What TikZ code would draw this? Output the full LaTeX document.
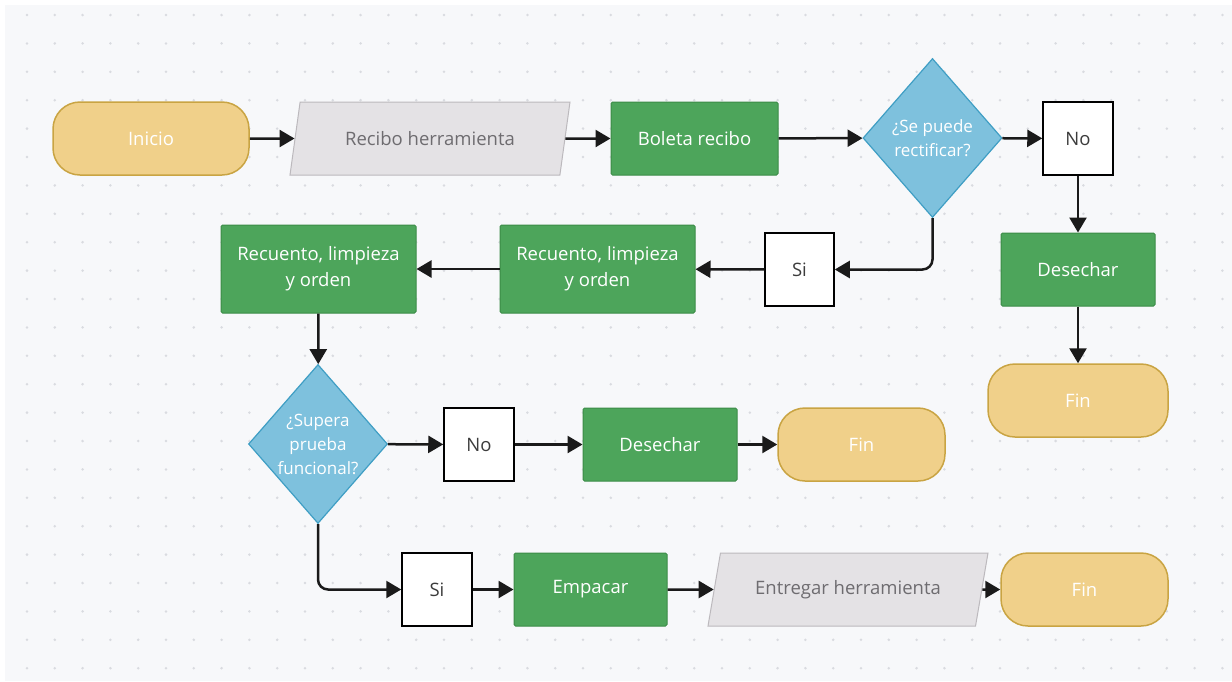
\documentclass[tikz,border=0pt]{standalone}
\usepackage{fontspec}
\setmainfont{Open Sans}
\usetikzlibrary{shapes.geometric,arrows.meta,calc}

\definecolor{canvas}{HTML}{F7F8FA}
\definecolor{griddot}{HTML}{D9DBE0}
\definecolor{termfill}{HTML}{F0D08A}
\definecolor{termline}{HTML}{C9A443}
\definecolor{procfill}{HTML}{4DA55B}
\definecolor{procline}{HTML}{3B8C47}
\definecolor{decfill}{HTML}{7EC1DD}
\definecolor{decline}{HTML}{3F9EC4}
\definecolor{iofill}{HTML}{E4E2E5}
\definecolor{ioline}{HTML}{BCB9BD}
\definecolor{iotext}{HTML}{6E6C70}
\definecolor{boxtext}{HTML}{3C3C3C}
\definecolor{arrowcol}{HTML}{1A1A1A}

\tikzset{
  base/.style={font=\fontsize{18.5}{26}\selectfont, align=center, inner sep=2pt},
  term/.style={base, rectangle, rounded corners=27pt, draw=termline, fill=termfill,
    line width=1.5pt, minimum height=73pt, text=white},
  proc/.style={base, rectangle, rounded corners=1.5pt, draw=procline, fill=procfill,
    line width=1pt, minimum height=73pt, text=white},
  io/.style={base, trapezium, trapezium left angle=61, trapezium right angle=119,
    trapezium stretches body, draw=ioline, fill=iofill, line width=1pt,
    minimum width=280pt, minimum height=73pt, text=iotext},
  answer/.style={base, rectangle, draw=black, fill=white, line width=1.5pt,
    minimum width=70pt, minimum height=73pt, text=boxtext},
  decision/.style={diamond, draw=decline, fill=decfill, line width=1.2pt,
    minimum width=139pt, minimum height=159pt, inner sep=-12pt, align=center,
    text=white, font=\fontsize{17}{24}\selectfont},
  flow/.style={draw=arrowcol, line width=2.5pt, -{Triangle[length=15pt,width=17pt]}},
}

\begin{document}
\begin{tikzpicture}[x=1pt,y=-1pt]
  % canvas and dotted grid
  \useasboundingbox (0,0) rectangle (1232,681);
  \fill[white] (0,0) rectangle (1232,681);
  \fill[canvas] (5,5) rectangle (1232,681);
  \foreach \i in {0,...,43} {
    \foreach \j in {0,...,23} {
      \fill[griddot] (27+27.8*\i,15+28.4*\j) circle (1.4pt);
    }
  }

  % first row
  \node[term, minimum width=196pt] (ini) at (151,138.5) {Inicio};
  \node[io] (rec) at (430,138.5) {Recibo herramienta};
  \node[proc, minimum width=167pt] (bol) at (694.5,138.5) {Boleta recibo};
  \node[decision] (d1) at (932.5,138) {¿Se puede\\rectificar?};
  \node[answer] (no1) at (1078,138.5) {No};
  \node[proc, minimum width=154pt] (des1) at (1078,269.5) {Desechar};
  \node[term, minimum width=180pt] (fin1) at (1078,400.5) {Fin};

  % second row
  \node[answer, minimum width=69pt] (si1) at (799.5,269.5) {Si};
  \node[proc, minimum width=195pt, minimum height=88pt] (rc2) at (597.5,269) {Recuento, limpieza\\y orden};
  \node[proc, minimum width=195pt, minimum height=88pt] (rc1) at (318.5,269) {Recuento, limpieza\\y orden};

  % third row
  \node[decision] (d2) at (318,444) {¿Supera\\prueba\\funcional?};
  \node[answer] (no2) at (479,444.5) {No};
  \node[proc, minimum width=154pt] (des2) at (660,444.5) {Desechar};
  \node[term, minimum width=167pt] (fin2) at (861.5,444.5) {Fin};

  % fourth row
  \node[answer] (si2) at (437,589.5) {Si};
  \node[proc, minimum width=153pt] (emp) at (590.5,589.5) {Empacar};
  \node[io] (ent) at (848,589.5) {Entregar herramienta};
  \node[term, minimum width=167pt] (fin3) at (1084.5,589.5) {Fin};

  % connectors
  \draw[flow] (ini) -- (rec);
  \draw[flow] (rec) -- (bol);
  \draw[flow] (bol) -- (d1);
  \draw[flow] (d1) -- (no1);
  \draw[flow] (no1) -- (des1);
  \draw[flow] (des1) -- (fin1);
  \draw[flow, rounded corners=10pt] (d1.south) |- (si1);
  \draw[flow] (si1) -- (rc2);
  \draw[flow] (rc2) -- (rc1);
  \draw[flow] (rc1) -- (d2);
  \draw[flow] (d2) -- (no2);
  \draw[flow] (no2) -- (des2);
  \draw[flow] (des2) -- (fin2);
  \draw[flow, rounded corners=10pt] (d2.south) |- (si2);
  \draw[flow] (si2) -- (emp);
  \draw[flow] (emp) -- (ent);
  \draw[flow] (ent) -- (fin3);
\end{tikzpicture}
\end{document}
